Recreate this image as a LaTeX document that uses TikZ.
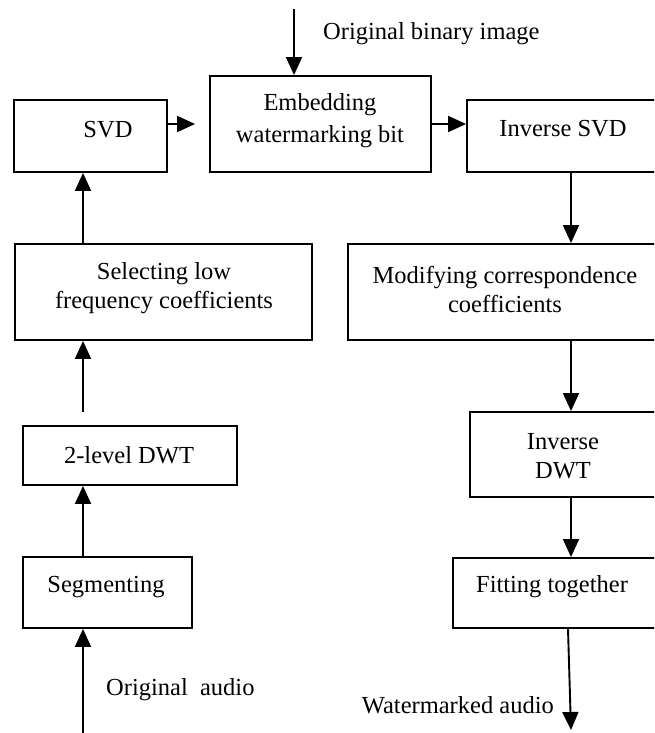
\documentclass[tikz,border=0pt]{standalone}
\usepackage{fontspec}
\setmainfont{Liberation Serif}
\usetikzlibrary{arrows.meta}
\begin{document}
\begin{tikzpicture}[x=1pt,y=-1pt,
  box/.style={draw, line width=1.9pt, rectangle, inner sep=0pt},
  txt/.style={font=\fontsize{24.5}{29}\selectfont, align=center, inner sep=0pt},
  arr/.style={line width=1.9pt, -{Triangle[length=18pt,width=16pt]}}]
\useasboundingbox (0,0) rectangle (654,733);
\clip (0,0) rectangle (654,733);
% boxes
\node[box, minimum width=153pt, minimum height=72pt] (svd) at (90.5,136) {};
\node[box, minimum width=221pt, minimum height=96pt] (emb) at (320.5,124) {};
\node[box, minimum width=233pt, minimum height=72pt] (isvd) at (583.5,136) {};
\node[box, minimum width=297pt, minimum height=96pt] (sel) at (163.5,292) {};
\node[box, minimum width=352pt, minimum height=96pt] (mod) at (524,292) {};
\node[box, minimum width=214pt, minimum height=59pt] (dwt) at (130,455.5) {};
\node[box, minimum width=230pt, minimum height=85pt] (idwt) at (585,454.5) {};
\node[box, minimum width=169pt, minimum height=71pt] (seg) at (107.5,592.5) {};
\node[box, minimum width=247pt, minimum height=70pt] (fit) at (576.5,593) {};
% texts
\node[txt] (tsvd) at (108,130) {SVD};
\node[txt] (temb) at (320,121) {Embedding\\[3pt]watermarking bit};
\node[txt] (tisvd) at (563,129) {Inverse SVD};
\node[txt] (tsel) at (164,288) {Selecting low\\frequency coefficients};
\node[txt] (tmod) at (505,289) {Modifying correspondence\\coefficients};
\node[txt] (tdwt) at (129,455) {2-level DWT};
\node[txt] (tidwt) at (563,456) {Inverse\\DWT};
\node[txt] (tseg) at (106,587) {Segmenting};
\node[txt] (tfit) at (552,587) {Fitting together};
\node[txt, anchor=west] (tobi) at (323,34) {Original binary image};
\node[txt, anchor=west] (toa) at (106,690) {Original\hspace{0.5em}audio};
\node[txt, anchor=east] (twa) at (554,705) {Watermarked audio};
% coordinates
\coordinate (lc) at (83,0);
\coordinate (rc) at (571,0);
\coordinate (imgin) at (294,9);
\coordinate (ain) at (83,740);
\coordinate (wout) at (571,730);
% arrows
\draw[arr] (imgin) -- (imgin |- emb.north);
\draw[arr, shorten >=14pt] (svd.east |- emb.east) -- (emb.west);
\draw[arr] (emb.east) -- (emb.east -| isvd.west);
\draw[arr] (lc |- sel.north) -- (lc |- svd.south);
\draw[arr, shorten <=13pt] (lc |- dwt.north) -- (lc |- sel.south);
\draw[arr] (lc |- seg.north) -- (lc |- dwt.south);
\draw[arr] (ain) -- (lc |- seg.south);
\draw[arr] (rc |- isvd.south) -- (rc |- mod.north);
\draw[arr] (rc |- mod.south) -- (rc |- idwt.north);
\draw[arr] (rc |- idwt.south) -- (rc |- fit.north);
\draw[arr] ([xshift=-3pt]rc |- fit.south) -- (wout);
\end{tikzpicture}
\end{document}
